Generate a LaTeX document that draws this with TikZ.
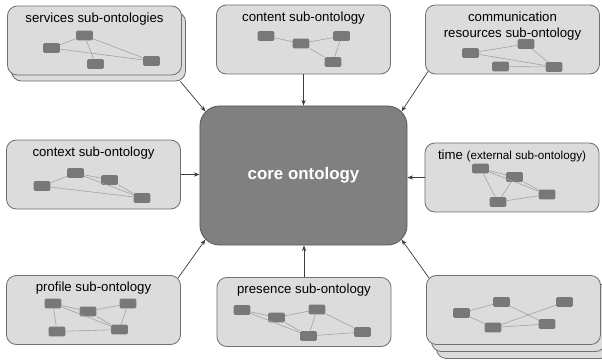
\documentclass[tikz,border=0pt]{standalone}
\usepackage{fontspec}
\setmainfont{Liberation Sans}
\usetikzlibrary{arrows.meta,positioning}

\definecolor{boxfill}{HTML}{DCDCDC}
\definecolor{boxline}{HTML}{707070}
\definecolor{corefill}{HTML}{808080}
\definecolor{coreline}{HTML}{5A5A5A}
\definecolor{minifill}{HTML}{787878}
\definecolor{miniedge}{HTML}{A0A0A0}
\definecolor{feedline}{HTML}{3C3C3C}

\tikzset{
 subbox/.style={draw=boxline,fill=boxfill,rounded corners=7pt,minimum width=4.35cm,minimum height=1.725cm,inner sep=0pt,line width=0.6pt},
 corebox/.style={draw=coreline,fill=corefill,rounded corners=14pt,minimum width=5.175cm,minimum height=3.475cm,text=white,font=\bfseries\fontsize{12}{14}\selectfont,line width=0.6pt},
 title/.style={inner sep=0pt,align=center,font=\fontsize{9.4}{11.3}\selectfont},
 mini/.style={fill=minifill,rounded corners=1pt,minimum width=12pt,minimum height=7pt,inner sep=0pt},
 minilink/.style={draw=miniedge,line width=0.4pt},
 feed/.style={draw=feedline,line width=0.5pt,-{Stealth[length=4pt,width=3pt]}}
}

\begin{document}
\begin{tikzpicture}[x=0.025cm,y=-0.025cm]
 \useasboundingbox (0,0) rectangle (602,362);

 % sub-ontology boxes
 \node[subbox] (srv2) at (98.5,46.5) {};
 \node[subbox] (srv) at (94.5,40.5) {};
 \node[subbox] (cnt) at (303.5,39.5) {};
 \node[subbox] (com) at (512.5,39.5) {};
 \node[subbox] (ctx) at (93.5,174.5) {};
 \node[subbox] (tim) at (512,177.5) {};
 \node[subbox] (prf) at (93.5,310) {};
 \node[subbox] (prs) at (304,312) {};
 \node[subbox] (oth3) at (523.5,324) {};
 \node[subbox] (oth2) at (518.5,317) {};
 \node[subbox] (oth) at (513.5,310) {};

 % titles
 \node[title, below=4.8pt of srv.north] (lsrv) {services sub-ontologies};
 \node[title, below=4.8pt of cnt.north] (lcnt) {content sub-ontology};
 \node[title, below=4.8pt of com.north] (lcom) {communication\\resources sub-ontology};
 \node[title, below=4.8pt of ctx.north] (lctx) {context sub-ontology};
 \node[title, below=4.8pt of tim.north] (ltim) {time {\fontsize{8.3}{10}\selectfont(external sub-ontology)}};
 \node[title, below=4.8pt of prf.north] (lprf) {profile sub-ontology};
 \node[title, below=4.8pt of prs.north] (lprs) {presence sub-ontology};

 % core
 \node[corebox] (core) at (303.5,175.5) {core ontology};
 \coordinate (cnw) at ([xshift=4.2pt,yshift=-4.2pt]core.north west);
 \coordinate (cne) at ([xshift=-4.2pt,yshift=-4.2pt]core.north east);
 \coordinate (csw) at ([xshift=4.2pt,yshift=4.2pt]core.south west);
 \coordinate (cse) at ([xshift=-4.2pt,yshift=4.2pt]core.south east);

 % small graphs
 \foreach \n/\x/\y in {a/84.5/35.5,b/51.5/48,c/95.5/64,d/151.5/61}
  \node[mini] (srv\n) at (\x,\y) {};
 \foreach \u/\v in {a/b,a/c,a/d,b/d}
  \draw[minilink] (srv\u) -- (srv\v);

 \foreach \n/\x/\y in {a/266/36,b/301/43.5,c/341.5/36,d/333/62}
  \node[mini] (cnt\n) at (\x,\y) {};
 \foreach \u/\v in {a/b,b/c,b/d,c/d}
  \draw[minilink] (cnt\u) -- (cnt\v);

 \foreach \n/\x/\y in {a/470.5/53,b/526/44,c/500.5/66.5,d/554/67}
  \node[mini] (com\n) at (\x,\y) {};
 \foreach \u/\v in {a/b,a/d,b/d,c/d}
  \draw[minilink] (com\u) -- (com\v);

 \foreach \n/\x/\y in {a/42/186,b/75.5/173,c/109.5/180,d/142/198}
  \node[mini] (ctx\n) at (\x,\y) {};
 \foreach \u/\v in {a/b,b/c,b/d,c/d,a/d}
  \draw[minilink] (ctx\u) -- (ctx\v);

 \foreach \n/\x/\y in {a/480.5/168.5,b/514.5/177,c/498/202,d/547/194.5}
  \node[mini] (tim\n) at (\x,\y) {};
 \foreach \u/\v in {a/b,a/c,a/d,b/c,b/d,c/d}
  \draw[minilink] (tim\u) -- (tim\v);

 \foreach \n/\x/\y in {a/53/303.5,b/88/311.5,c/128/303.5,d/57/331.5,e/119.5/329.5}
  \node[mini] (prf\n) at (\x,\y) {};
 \foreach \u/\v in {a/b,b/c,a/d,a/e,b/e,c/e,d/e}
  \draw[minilink] (prf\u) -- (prf\v);

 \foreach \n/\x/\y in {a/242/310,b/276.5/317.5,c/317/309.5,d/308.5/336,e/362.5/332}
  \node[mini] (prs\n) at (\x,\y) {};
 \foreach \u/\v in {a/b,a/d,b/c,b/d,c/d,c/e,d/e}
  \draw[minilink] (prs\u) -- (prs\v);

 \foreach \n/\x/\y in {a/461.5/313,b/501.5/302,c/493/327.5,d/547/324,e/564.5/302}
  \node[mini] (oth\n) at (\x,\y) {};
 \foreach \u/\v in {a/b,a/c,b/d,c/d,c/e}
  \draw[minilink] (oth\u) -- (oth\v);

 % connectors
 \draw[feed] ([xshift=-4pt]srv2.south east) -- (cnw);
 \draw[feed] (cnt.south) -- (core.north);
 \draw[feed] ([xshift=2pt,yshift=2pt]com.south west) -- (cne);
 \draw[feed] (ctx.east) -- (ctx.east -| core.west);
 \draw[feed] (tim.west) -- (tim.west -| core.east);
 \draw[feed] ([xshift=-2pt,yshift=-2pt]prf.north east) -- (csw);
 \draw[feed] (prs.north) -- (prs.north |- core.south);
 \draw[feed] ([xshift=2pt,yshift=-2pt]oth.north west) -- (cse);
\end{tikzpicture}
\end{document}
